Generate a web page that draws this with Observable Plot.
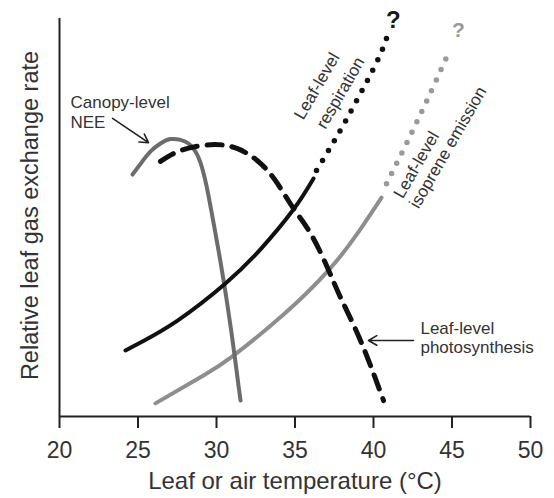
<!DOCTYPE html>
<html><head><meta charset="utf-8">
<script src="https://cdn.jsdelivr.net/npm/d3@7"></script>
<script src="https://cdn.jsdelivr.net/npm/@observablehq/plot@0.6"></script>
<style>body{margin:0;background:#fff;}</style>
</head><body><div id="chart"></div>
<script>
// x ticks (temperature, °C)
const xTicks = [20, 25, 30, 35, 40, 45, 50];

// Canopy-level NEE (dark grey solid)
const neeT = [24.65, 25.22, 25.80, 26.43, 27.07, 27.71, 28.22, 28.66, 28.98, 29.24, 29.49, 29.81, 30.13, 30.45, 30.70, 30.96, 31.21, 31.40, 31.53];
const neeV = [60.8, 63.8, 66.6, 68.6, 69.7, 69.5, 68.6, 66.6, 63.8, 60.1, 55.5, 48.7, 41.7, 34.2, 27.9, 20.9, 13.6, 7.8, 4.0];

// Leaf-level respiration (black solid, then dotted)
const respT = [24.20, 25.16, 27.52, 30.57, 32.80, 34.90, 36.18];
const respV = [16.6, 18.6, 24.1, 33.4, 42.0, 52.0, 59.8];
const respDotT = [36.37, 37.77, 39.04, 40.25, 40.83];
const respDotV = [61.8, 71.1, 80.2, 89.4, 95.0];

// Leaf-level isoprene emission (light grey solid, then dotted)
const isoT = [26.11, 29.17, 31.08, 34.27, 37.13, 38.98, 40.51];
const isoV = [3.3, 10.3, 15.3, 25.6, 36.7, 46.0, 55.0];
const isoDotT = [40.83, 42.04, 43.31, 44.71];
const isoDotV = [58.5, 68.1, 78.6, 90.7];

// Leaf-level photosynthesis (black dashed)
const photoT = [26.43, 27.71, 29.62, 31.34, 32.80, 33.89, 34.90, 35.99, 37.07, 37.90, 39.17, 40.64];
const photoV = [64.1, 66.8, 68.3, 67.3, 63.6, 58.5, 52.3, 46.0, 37.4, 29.9, 19.1, 4.0];

// Horizontal annotations
const noteText = ["Canopy-level", "NEE", "Leaf-level", "photosynthesis"];
const noteX = [20.70, 20.70, 42.99, 42.99];
const noteY = [79.0, 73.9, 22.1, 17.3];

// Rotated annotations
const rotText = ["Leaf-level", "respiration", "Leaf-level", "isoprene emission"];
const rotX = [36.40, 37.90, 42.74, 44.75];
const rotY = [83.0, 81.3, 63.2, 67.6];

// Question marks
const qX = [41.27, 45.41];
const qY = [99.5, 97.0];
const qColor = ["#1a1a1a", "#9a9a9a"];
const qSize = [24, 21];

// Arrows
const arrX1 = [23.38, 42.55];
const arrY1 = [74.9, 19.1];
const arrX2 = [25.67, 39.68];
const arrY2 = [68.8, 19.1];

const rows = (xs, ys) => xs.map((x, i) => ({x, y: ys[i]}));
const idx = (a) => a.map((_, i) => i);

const chart = Plot.plot({
  width: 554, height: 498,
  marginTop: 18, marginBottom: 82, marginLeft: 59, marginRight: 24,
  x: {domain: [20, 50]},
  y: {domain: [0, 100], axis: null},
  style: {fontFamily: "'Liberation Sans', Arial, sans-serif", color: "#222", background: "#fff", overflow: "visible"},
  marks: [
    Plot.ruleY([0], {stroke: "#222", strokeWidth: 2}),
    Plot.ruleX([20], {stroke: "#222", strokeWidth: 2}),
    Plot.axisX({ticks: xTicks, tickSize: 12, tickPadding: 13, fontSize: 23, label: null, strokeWidth: 2, stroke: "#222", tickFormat: d => String(d), fill: "#333"}),
    Plot.text(["Leaf or air temperature (°C)"], {frameAnchor: "bottom", dy: 72, fontSize: 24, fill: "#333"}),
    Plot.text(["Relative leaf gas exchange rate"], {frameAnchor: "left", textAnchor: "middle", dx: -29, dy: -2, rotate: -90, fontSize: 23.5, fill: "#333"}),

    Plot.line(rows(isoT, isoV), {x: "x", y: "y", curve: "natural", stroke: "#8e8e8e", strokeWidth: 4}),
    Plot.line(rows(isoDotT, isoDotV), {x: "x", y: "y", curve: "natural", stroke: "#9a9a9a", strokeWidth: 5.5, strokeDasharray: "0,11.5", strokeLinecap: "round"}),
    Plot.line(rows(neeT, neeV), {x: "x", y: "y", curve: "natural", stroke: "#6c6c6c", strokeWidth: 4}),
    Plot.line(rows(photoT, photoV), {x: "x", y: "y", curve: "natural", stroke: "#111", strokeWidth: 5, strokeDasharray: "15,10"}),
    Plot.line(rows(respT, respV), {x: "x", y: "y", curve: "natural", stroke: "#111", strokeWidth: 4}),
    Plot.line(rows(respDotT, respDotV), {x: "x", y: "y", curve: "natural", stroke: "#111", strokeWidth: 5.5, strokeDasharray: "0,11.5", strokeLinecap: "round"}),

    Plot.arrow(idx(arrX1), {x1: i => arrX1[i], y1: i => arrY1[i], x2: i => arrX2[i], y2: i => arrY2[i], stroke: "#222", strokeWidth: 1.6, headLength: 9}),

    Plot.text(idx(noteText), {x: i => noteX[i], y: i => noteY[i], text: i => noteText[i], textAnchor: "start", fontSize: 17, fill: "#333"}),
    Plot.text(idx(rotText), {x: i => rotX[i], y: i => rotY[i], text: i => rotText[i], rotate: -60, fontSize: 17, fill: "#333"}),
    Plot.text(idx(qX), {x: i => qX[i], y: i => qY[i], text: () => "?", fill: i => qColor[i], fontSize: i => qSize[i], fontWeight: "bold"})
  ]
});
document.getElementById("chart").appendChild(chart);
</script>
</body></html>
